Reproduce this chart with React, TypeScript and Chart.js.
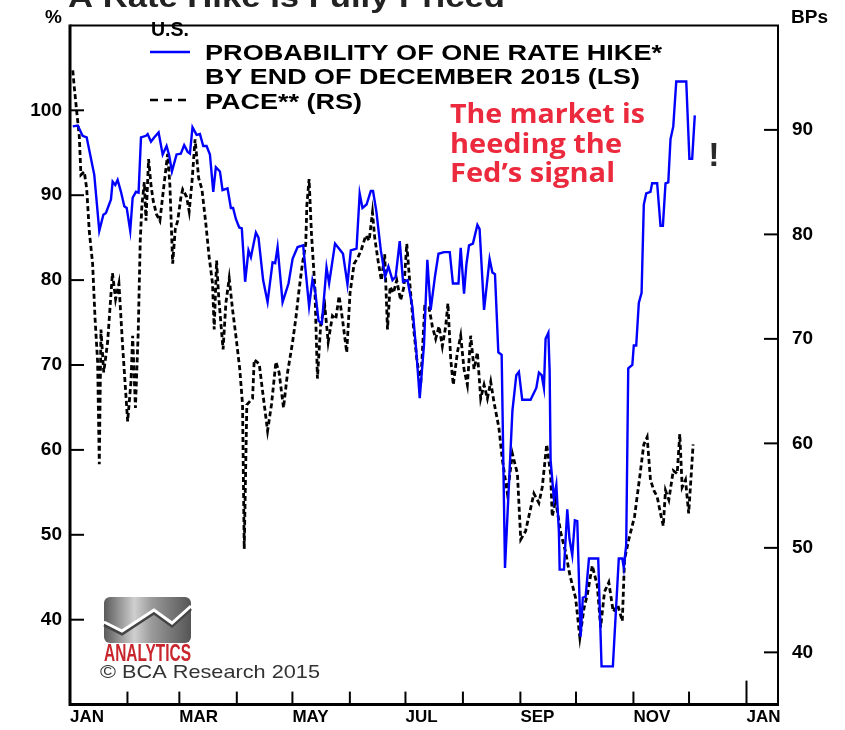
import React, { useEffect, useRef } from 'react';
import { Chart, registerables } from 'chart.js';

Chart.register(...registerables);

// Days counted from 1 Jan 2015
const probDays = [1.5,4.2,6.8,9.0,13.1,15.8,18.0,19.4,22.1,23.0,24.4,25.7,27.5,29.3,30.6,32.5,33.8,35.6,37.0,38.3,41.0,41.9,43.7,45.4,47.8,50.0,52.1,53.5,55.0,57.5,59.8,61.6,63.5,64.7,66.1,68.3,70.1,71.9,73.7,75.5,77.3,78.7,80.9,82.3,85.0,86.8,88.0,89.5,91.3,92.7,94.5,96.3,97.6,100.3,101.7,104.2,106.6,109.3,110.7,112.0,114.7,117.9,120.1,122.8,125.8,129.0,130.8,132.2,134.1,135.9,138.4,139.8,143.0,145.2,147.3,149.7,151.5,154.6,156.3,157.8,160.0,162.3,163.5,165.3,167.7,170.0,171.8,174.0,175.7,177.9,179.7,182.1,184.7,186.9,188.7,191.0,192.8,194.6,196.9,198.8,201.8,204.9,206.6,209.6,210.8,212.6,213.9,215.3,217.4,219.8,221.0,223.4,226.4,227.9,229.3,231.1,232.9,234.7,238.7,240.8,242.2,244.0,248.5,251.6,253.0,254.5,255.7,256.6,258.1,258.8,259.3,261.1,262.4,263.8,264.2,266.5,268.3,269.5,271.0,272.4,273.7,275.5,276.7,278.2,280.0,285.0,286.8,292.9,296.1,298.0,298.8,300.1,301.2,303.4,304.2,305.5,306.9,308.4,309.6,310.9,313.2,314.1,316.8,318.6,319.9,321.3,322.8,324.0,325.5,327.1,332.5,334.2,335.7,337.1];
const probValues = [98.1,98.2,97.0,96.8,92.4,85.8,87.7,87.9,89.5,91.6,91.2,91.8,90.4,88.7,88.5,85.8,89.7,90.4,90.3,96.8,97.0,97.2,96.3,96.8,97.4,94.8,95.8,94.7,92.8,94.8,94.9,95.9,95.1,94.9,98.0,97.1,97.2,95.8,95.8,94.8,90.4,93.3,92.8,90.6,90.8,88.5,88.5,87.2,86.2,86.1,79.8,83.5,82.7,85.6,85.0,80.0,77.4,82.1,82.0,83.9,77.4,79.6,82.5,83.9,84.1,76.9,80.0,78.9,75.2,74.9,81.5,79.6,84.3,83.7,83.1,79.5,83.5,83.7,90.2,88.5,88.9,90.5,90.5,88.1,83.5,80.4,81.6,80.0,80.4,84.6,79.8,80.0,76.9,71.5,66.1,72.4,82.4,76.5,80.4,83.1,83.3,83.3,79.6,79.6,83.8,78.4,81.9,84.1,84.3,86.5,86.0,76.5,82.5,80.9,80.7,71.5,71.2,46.1,64.6,68.8,69.2,65.9,65.9,67.3,69.1,68.8,67.3,73.1,73.8,69.2,58.8,54.2,55.9,50.3,45.9,45.9,53.0,49.5,47.6,51.7,51.6,38.0,42.6,42.7,47.2,47.2,34.5,34.5,47.2,47.2,46.1,48.8,69.6,70.0,72.3,72.3,77.3,78.5,88.9,90.2,90.4,91.4,91.4,86.4,86.4,91.4,91.5,96.6,98.1,103.4,103.4,94.3,94.3,99.4];

const paceDays = [1.5,2.3,3.6,5.0,5.9,7.7,9.0,10.4,12.2,13.5,14.9,15.8,16.7,18.2,20.3,22.9,24.6,26.4,28.4,31.1,32.9,33.8,35.3,36.8,37.9,38.8,40.1,41.0,42.4,43.7,44.9,46.7,48.5,50.3,52.7,53.9,55.4,56.8,58.1,59.8,60.8,62.9,64.3,65.8,67.5,69.4,71.2,73.3,75.1,76.9,77.8,79.1,80.2,81.4,82.6,84.1,85.9,87.7,89.5,91.6,93.1,94.0,95.4,98.5,99.4,102.1,103.9,106.6,108.7,111.1,112.8,115.2,117.4,120.1,121.8,123.6,125.4,127.2,127.8,129.0,130.3,132.1,133.5,135.3,137.5,139.3,141.6,143.4,145.2,147.0,149.3,151.1,153.3,155.4,157.3,159.6,161.4,163.2,164.4,166.2,168.0,169.8,171.3,172.7,174.5,176.3,178.4,180.2,181.7,183.5,185.3,187.1,189.2,191.4,193.7,195.5,197.3,199.1,200.9,202.7,203.9,205.4,206.8,209.0,210.8,212.6,214.4,216.2,218.0,219.8,221.6,223.4,225.2,227.0,228.7,231.4,233.3,236.0,238.7,241.4,243.2,245.8,250.3,253.0,254.8,257.2,259.3,260.2,262.0,264.7,267.4,269.7,272.8,275.1,277.3,279.1,281.8,284.5,286.3,288.4,290.7,293.1,295.6,298.0,299.2,301.5,304.6,307.4,309.6,311.4,313.2,315.0,316.8,318.6,320.1,321.3,323.1,325.5,327.6,329.0,330.3,332.1,333.8,335.1,336.2];
const paceValues = [95.7,94.1,91.8,89.4,85.7,86.0,84.4,80.3,77.2,72.0,67.8,58.0,70.9,66.8,69.7,76.3,73.8,75.3,69.3,62.1,65.9,70.3,63.4,70.6,79.4,82.8,85.0,81.3,87.2,84.7,83.2,81.9,81.3,84.1,87.7,84.7,77.2,80.5,81.3,83.5,84.3,83.6,82.2,85.0,89.1,85.4,84.3,81.0,77.8,75.3,70.9,77.5,74.1,71.5,69.0,73.4,75.8,72.8,70.3,67.1,63.7,49.9,63.7,64.3,68.0,67.6,65.0,61.2,63.7,67.8,66.8,63.4,66.8,69.7,71.9,74.7,77.2,79.1,82.8,85.3,80.0,75.0,66.2,71.5,73.1,69.7,72.2,71.9,74.1,71.9,68.7,74.4,77.2,77.8,78.6,79.9,79.4,82.1,79.7,77.5,75.6,78.1,70.9,75.0,74.4,75.6,73.7,75.0,79.1,75.0,71.2,68.1,65.6,73.1,73.0,71.2,70.0,71.2,69.3,71.2,73.4,68.1,65.6,68.7,70.3,67.1,65.6,70.3,67.1,68.7,64.3,65.6,64.3,65.9,64.0,61.5,58.4,55.2,59.0,57.1,50.8,51.6,55.2,54.3,55.8,59.9,57.1,53.0,54.6,51.5,49.6,47.4,45.2,41.4,44.2,45.5,48.3,46.4,42.4,45.8,46.7,43.9,44.5,43.0,48.9,50.8,53.0,56.8,59.9,60.6,56.5,55.5,54.9,53.3,52.1,55.5,54.6,57.4,57.1,60.9,55.8,56.5,53.3,56.8,59.9];

const monthStarts = [0,31,59,90,120,151,181,212,243,273,304,334,365];
const monthLabels = ['JAN','','MAR','','MAY','','JUL','','SEP','','NOV','','JAN'];
const leftTicks = [40,50,60,70,80,90,100];
const rightTicks = [40,50,60,70,80,90];

const titleText = 'A Rate Hike Is Fully Priced';
const legendHeader = 'U.S.';
const legendProb = ['PROBABILITY OF ONE RATE HIKE*', 'BY END OF DECEMBER 2015 (LS)'];
const legendPace = 'PACE** (RS)';
const noteLines = ['The market is', 'heeding the', 'Fed\u2019s signal'];
const copyright = '\u00A9 BCA Research 2015';

const SANS = '"Liberation Sans", Arial, Helvetica, sans-serif';

function drawText(ctx: CanvasRenderingContext2D, text: string, x: number, y: number, font: string, color: string, width?: number, align: CanvasTextAlign = 'left', baseline: CanvasTextBaseline = 'middle') {
  ctx.save();
  ctx.font = font;
  ctx.fillStyle = color;
  ctx.textBaseline = baseline;
  ctx.textAlign = align;
  const w = ctx.measureText(text).width;
  const sx = width ? width / w : 1;
  ctx.translate(x, y);
  ctx.scale(sx, 1);
  ctx.fillText(text, 0, 0);
  ctx.restore();
}

const decor = {
  id: 'decor',
  afterDraw(chart: any) {
    const { ctx, chartArea: a, scales } = chart;
    ctx.save();
    // inner tick marks
    ctx.strokeStyle = '#000';
    ctx.lineWidth = 2;
    scales.y.ticks.forEach((t: any) => {
      const py = scales.y.getPixelForValue(t.value);
      ctx.beginPath(); ctx.moveTo(a.left, py); ctx.lineTo(a.left + 14, py); ctx.stroke();
    });
    scales.y2.ticks.forEach((t: any) => {
      const py = scales.y2.getPixelForValue(t.value);
      ctx.beginPath(); ctx.moveTo(a.right, py); ctx.lineTo(a.right - 14, py); ctx.stroke();
    });
    scales.x.ticks.forEach((t: any, i: number) => {
      const px = scales.x.getPixelForValue(t.value);
      if (i === 0) return;
      const len = i === scales.x.ticks.length - 1 ? 24 : 13;
      ctx.beginPath(); ctx.moveTo(px, a.bottom); ctx.lineTo(px, a.bottom - len); ctx.stroke();
    });
    // frame
    ctx.lineWidth = 2;
    ctx.beginPath(); ctx.moveTo(a.left, a.top); ctx.lineTo(a.right, a.top); ctx.lineTo(a.right, a.bottom); ctx.stroke();
    ctx.lineWidth = 3;
    ctx.beginPath(); ctx.moveTo(a.left, a.top - 1); ctx.lineTo(a.left, a.bottom); ctx.lineTo(a.right + 1, a.bottom); ctx.stroke();

    // title (cut off at top)
    drawText(ctx, titleText, 68, 7, 'bold 30px ' + SANS, '#222', 437, 'left', 'alphabetic');
    // axis unit labels
    drawText(ctx, '%', 62, 18, 'bold 19px ' + SANS, '#000', undefined, 'right');
    drawText(ctx, 'BPs', a.right + 13, 18, 'bold 19px ' + SANS, '#000');

    // legend
    drawText(ctx, legendHeader, 151, 30, 'bold 21px ' + SANS, '#000', 38);
    ctx.strokeStyle = '#0000ff';
    ctx.lineWidth = 2.5;
    ctx.beginPath(); ctx.moveTo(150, 52); ctx.lineTo(190, 52); ctx.stroke();
    drawText(ctx, legendProb[0], 205, 54, 'bold 22px ' + SANS, '#000', 457);
    drawText(ctx, legendProb[1], 205, 78, 'bold 22px ' + SANS, '#000', 435);
    ctx.strokeStyle = '#000';
    ctx.lineWidth = 2.5;
    ctx.setLineDash([8, 6]);
    ctx.beginPath(); ctx.moveTo(150, 100); ctx.lineTo(192, 100); ctx.stroke();
    ctx.setLineDash([]);
    drawText(ctx, legendPace, 205, 103, 'bold 22px ' + SANS, '#000', 157);

    // annotation
    const noteWidths = [195, 172, 165];
    noteLines.forEach((s, i) => {
      drawText(ctx, s, 450, 116 + i * 29.5, 'bold 26px "Open Sans", Lato, sans-serif', '#ec2a3e', noteWidths[i]);
    });
    drawText(ctx, '!', 714, 157, 'bold 34px ' + SANS, '#2a2a2a', undefined, 'center');

    // logo
    const lx = 104, ly = 597, lw = 87, lh = 46;
    const g = ctx.createLinearGradient(lx, 0, lx + lw, 0);
    g.addColorStop(0, '#5a5a5a');
    g.addColorStop(0.35, '#cfcfcf');
    g.addColorStop(0.55, '#9a9a9a');
    g.addColorStop(1, '#555');
    ctx.fillStyle = g;
    ctx.beginPath();
    (ctx as any).roundRect(lx, ly, lw, lh, 6);
    ctx.fill();
    ctx.strokeStyle = '#444';
    ctx.lineWidth = 3;
    ctx.beginPath();
    ctx.moveTo(lx, ly + 28); ctx.lineTo(lx + 18, ly + 37); ctx.lineTo(lx + 50, ly + 16); ctx.lineTo(lx + 68, ly + 29); ctx.lineTo(lx + lw, ly + 12);
    ctx.stroke();
    ctx.strokeStyle = '#fff';
    ctx.lineWidth = 3;
    ctx.beginPath();
    ctx.moveTo(lx, ly + 25); ctx.lineTo(lx + 18, ly + 34); ctx.lineTo(lx + 50, ly + 13); ctx.lineTo(lx + 68, ly + 26); ctx.lineTo(lx + lw, ly + 9);
    ctx.stroke();
    drawText(ctx, 'ANALYTICS', lx, 654, 'bold 24px ' + SANS, '#c8262c', lw);
    drawText(ctx, copyright, 100, 673, '19px ' + SANS, '#333', 220);
    ctx.restore();
  },
};

export default function App() {
  const ref = useRef<HTMLCanvasElement>(null);
  useEffect(() => {
    if (!ref.current) return;
    const tickFont = { family: SANS, size: 19, weight: 'bold' as const };
    const chart = new Chart(ref.current, {
      type: 'line',
      data: {
        datasets: [
          {
            label: 'PROBABILITY OF ONE RATE HIKE* BY END OF DECEMBER 2015 (LS)',
            data: probDays.map((d, i) => ({ x: d, y: probValues[i] })),
            borderColor: '#0000ff',
            borderWidth: 2.4,
            pointRadius: 0,
            tension: 0,
            yAxisID: 'y',
          },
          {
            label: 'PACE** (RS)',
            data: paceDays.map((d, i) => ({ x: d, y: paceValues[i] })),
            borderColor: '#000',
            borderWidth: 2.8,
            borderDash: [5, 3],
            pointRadius: 0,
            tension: 0,
            yAxisID: 'y2',
          },
        ],
      },
      options: {
        responsive: false,
        animation: false,
        events: [],
        layout: { padding: { top: 18, left: 0, right: 0, bottom: 0 } },
        plugins: { legend: { display: false }, tooltip: { enabled: false } },
        scales: {
          x: {
            type: 'linear',
            min: 0,
            max: 382,
            position: 'bottom',
            grid: { display: false, drawTicks: false },
            border: { display: false },
            afterBuildTicks: (s: any) => { s.ticks = monthStarts.map((v) => ({ value: v })); },
            afterFit: (s: any) => { s.height = 22; },
            ticks: {
              autoSkip: false,
              maxRotation: 0,
              minRotation: 0,
              align: 'start',
              padding: 3,
              color: '#000',
              font: { family: SANS, size: 17, weight: 'bold' },
              callback: (_v: any, i: number) => monthLabels[i],
            },
          },
          y: {
            position: 'left',
            min: 30,
            max: 110,
            grid: { display: false, drawTicks: false },
            border: { display: false },
            afterBuildTicks: (s: any) => { s.ticks = leftTicks.map((v) => ({ value: v })); },
            afterFit: (s: any) => { s.width = 70; },
            ticks: { padding: 8, color: '#000', font: tickFont },
          },
          y2: {
            position: 'right',
            min: 35,
            max: 100,
            grid: { display: false, drawTicks: false },
            border: { display: false },
            afterBuildTicks: (s: any) => { s.ticks = rightTicks.map((v) => ({ value: v })); },
            afterFit: (s: any) => { s.width = 67; },
            ticks: { padding: 14, color: '#000', font: tickFont },
          },
        },
      },
      plugins: [decor],
    });
    return () => chart.destroy();
  }, []);
  return (
    <div style={{ position: 'absolute', left: 0, top: 0, width: 845, height: 730, background: '#fff' }}>
      <canvas ref={ref} width={845} height={730} style={{ display: 'block' }} />
    </div>
  );
}
